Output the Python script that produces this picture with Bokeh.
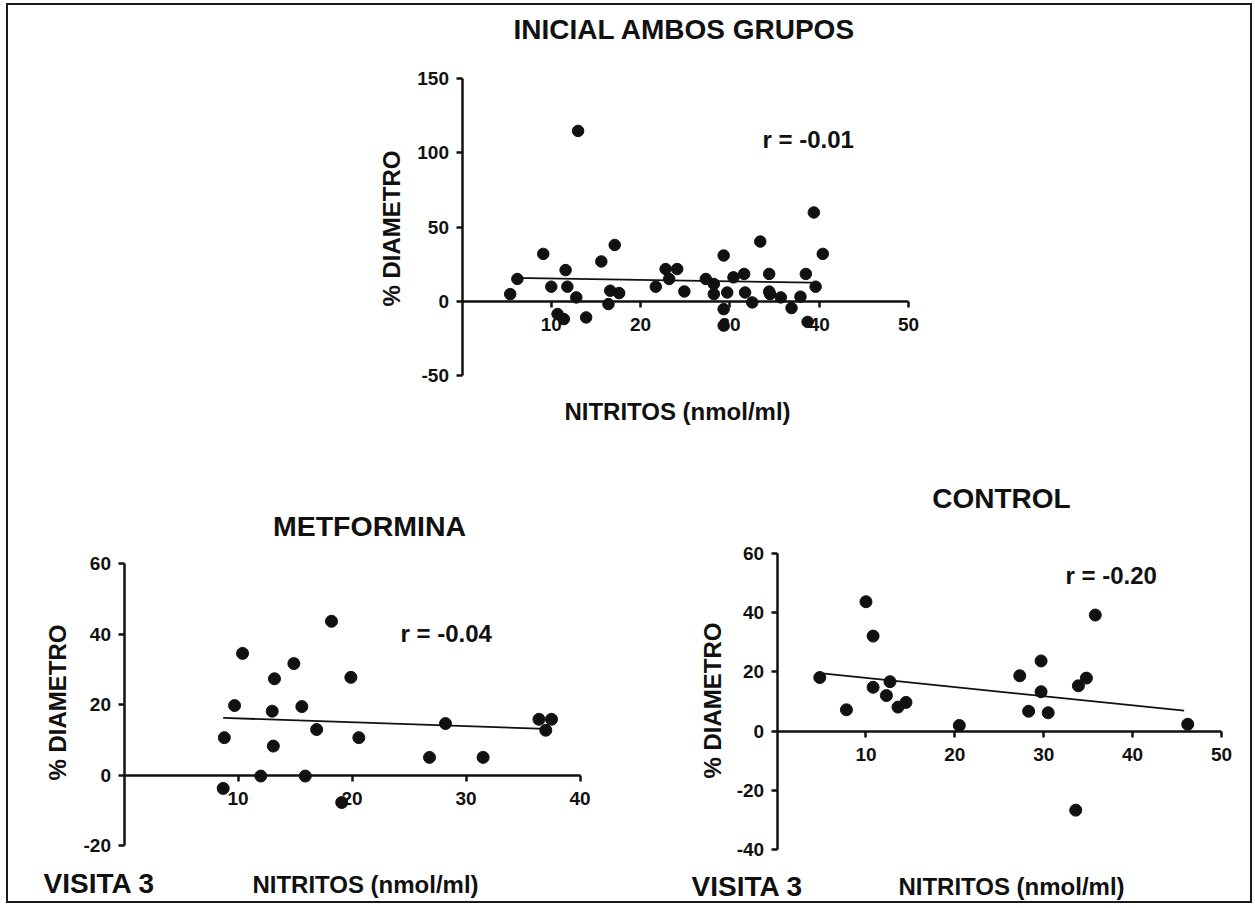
import math
from bokeh.plotting import figure
from bokeh.models import Label, FixedTicker, Range1d
from bokeh.layouts import column, row
from bokeh.embed import file_html
from bokeh.resources import INLINE

FONT = "Liberation Sans"
INK = "#111111"

# ---------------- data ----------------
# INICIAL AMBOS GRUPOS
top_x = [5.4, 6.2, 9.1, 10.0, 10.7, 11.4, 11.6, 11.8, 12.8, 13.0, 13.9, 15.6, 16.4, 16.6, 17.1,
         17.6, 21.7, 22.8, 23.2, 24.1, 24.9, 27.3, 28.2, 28.2, 29.3, 29.3, 29.3, 29.7, 30.4, 31.6,
         31.7, 32.5, 33.4, 34.4, 34.4, 34.5, 35.7, 36.9, 37.9, 38.5, 38.7, 39.4, 39.6, 40.4]
top_y = [4.8, 15.0, 31.9, 9.8, -8.6, -12.0, 21.0, 9.8, 2.6, 114.7, -10.9, 26.8, -1.9, 7.1, 37.9,
         5.5, 9.8, 21.7, 15.0, 21.7, 6.6, 15.0, 11.6, 4.8, 30.8, -5.3, -16.4, 5.9, 16.1, 18.4,
         5.9, -0.8, 40.2, 18.4, 6.5, 4.8, 2.6, -4.6, 3.1, 18.4, -13.9, 59.8, 9.8, 31.9]
top_fit_x = [5.8, 39.2]
top_fit_y = [15.8, 12.5]
top_r = "r = -0.01"

# METFORMINA
met_x = [8.8, 9.7, 8.7, 10.4, 12.0, 13.0, 13.2, 13.1, 14.9, 15.6, 15.9, 16.9, 18.2, 19.1, 19.9,
         20.6, 26.8, 28.2, 31.5, 36.4, 37.0, 37.5]
met_y = [10.6, 19.7, -3.8, 34.5, -0.3, 18.1, 27.3, 8.2, 31.6, 19.4, -0.3, 12.9, 43.6, -7.8, 27.7,
         10.6, 5.0, 14.6, 5.0, 15.8, 12.7, 15.8]
met_fit_x = [8.7, 37.0]
met_fit_y = [16.2, 13.1]
met_r = "r = -0.04"

# CONTROL
con_x = [4.8, 7.8, 10.0, 10.8, 10.8, 12.3, 12.7, 13.6, 14.5, 20.5, 27.3, 28.3, 29.7, 29.7, 30.5,
         33.6, 33.9, 34.8, 35.8, 46.2]
con_y = [18.1, 7.2, 43.7, 32.1, 14.8, 12.0, 16.7, 8.1, 9.7, 1.9, 18.7, 6.7, 23.7, 13.3, 6.2,
         -26.7, 15.3, 17.9, 39.2, 2.3]
con_fit_x = [4.8, 45.8]
con_fit_y = [19.6, 6.9]
con_r = "r = -0.20"

titles = ["INICIAL AMBOS GRUPOS", "METFORMINA", "CONTROL"]
x_label = "NITRITOS (nmol/ml)"
y_label = "% DIAMETRO"
visit_label = "VISITA 3"

top_bounds = ((0, 50), (-50, 150))
met_bounds = ((0, 40), (-20, 60))
con_bounds = ((0, 50), (-40, 60))
top_xticks = [10, 20, 30, 40, 50]
top_yticks = [-50, 0, 50, 100, 150]
met_xticks = [10, 20, 30, 40]
met_yticks = [-20, 0, 20, 40, 60]
con_xticks = [10, 20, 30, 40, 50]
con_yticks = [-40, -20, 0, 20, 40, 60]

# page-pixel layout (styling only)
ORIGIN = (8, 5)   # inner top-left of the framed page
BASE_SHIFT = 0.35  # empirical baseline correction (fraction of font size)


class Panel:
    def __init__(self, canvas, box_px, bounds, xticks, yticks):
        cl, ct, cw, ch = canvas
        (xl, xr_), (yt, yb) = box_px          # page px of bounds corners
        (bx0, bx1), (by0, by1) = bounds
        self.sx = (xr_ - xl) / (bx1 - bx0)
        self.sy = (yb - yt) / (by1 - by0)
        self.xl, self.yt, self.bx0, self.by1 = xl, yt, bx0, by1
        x_start = bx0 - (xl - cl) / self.sx
        x_end = bx0 + (cl + cw - xl) / self.sx
        y_end = by1 + (yt - ct) / self.sy
        y_start = by1 - (ct + ch - yt) / self.sy
        p = figure(width=cw, height=ch, x_range=Range1d(x_start, x_end),
                   y_range=Range1d(y_start, y_end), output_backend="svg",
                   toolbar_location=None, min_border_left=0, min_border_right=0,
                   min_border_top=0, min_border_bottom=0)
        p.title.visible = False
        p.grid.visible = False
        p.outline_line_color = None
        p.background_fill_color = "white"
        p.border_fill_color = "white"
        p.xaxis.fixed_location = 0
        p.yaxis.fixed_location = 0
        p.xaxis.bounds = (bx0, bx1)
        p.yaxis.bounds = (by0, by1)
        p.xaxis.ticker = FixedTicker(ticks=xticks)
        p.yaxis.ticker = FixedTicker(ticks=yticks)
        p.xaxis.major_label_overrides = {t: str(t) for t in xticks}
        p.yaxis.major_label_overrides = {t: str(t) for t in yticks}
        for ax in (p.xaxis[0], p.yaxis[0]):
            ax.axis_line_color = INK
            ax.axis_line_width = 2.5
            ax.major_tick_line_color = INK
            ax.major_tick_line_width = 2.5
            ax.major_tick_out = 6
            ax.major_tick_in = 0
            ax.minor_tick_line_color = None
            ax.major_label_text_font = FONT
            ax.major_label_text_font_style = "bold"
            ax.major_label_text_font_size = "19px"
            ax.major_label_text_color = INK
        p.xaxis.major_label_standoff = 11
        p.yaxis.major_label_standoff = 7
        self.p = p

    def data(self, px, py):
        return (self.bx0 + (px - self.xl) / self.sx, self.by1 - (py - self.yt) / self.sy)

    def text(self, s, px, py, size, align="center", angle=0.0, baseline="alphabetic"):
        if baseline == "alphabetic":
            py = py - BASE_SHIFT * size
        x, y = self.data(px, py)
        self.p.add_layout(Label(x=x, y=y, text=s, text_font=FONT, text_font_style="bold",
                                text_font_size=f"{size}px", text_align=align, angle=angle,
                                text_baseline=baseline, text_color=INK))

    def plot(self, xs, ys, fx, fy, dot):
        self.p.line(fx, fy, line_color=INK, line_width=1.8)
        self.p.scatter(xs, ys, size=dot, fill_color=INK, line_color=INK)


W = 1242
H_TOP = 440
H_BOT = 456
SPLIT = 650
ox, oy = ORIGIN

top = Panel((ox, oy, W, H_TOP), ((461.5, 908), (78, 375)), top_bounds, top_xticks, top_yticks)
top.plot(top_x, top_y, top_fit_x, top_fit_y, 11.5)
top.text(titles[0], 684, 39, 28)
top.text(x_label, 677, 419, 24)
top.text(top_r, 762, 147, 24, "left")
top.text(y_label, 391, 228, 24, "center", math.pi / 2, "middle")

met = Panel((ox, oy + H_TOP, SPLIT - ox, H_BOT), ((123.5, 579.5), (563, 845)), met_bounds,
            met_xticks, met_yticks)
met.plot(met_x, met_y, met_fit_x, met_fit_y, 12)
met.text(titles[1], 369, 535, 28.5)
met.text(x_label, 365, 892, 24)
met.text(visit_label, 43, 893, 28, "left")
met.text(met_r, 400, 641, 24, "left")
met.text(y_label, 57, 702, 24, "center", math.pi / 2, "middle")

con = Panel((SPLIT, oy + H_TOP, ox + W - SPLIT, H_BOT), ((776.6, 1221), (553, 849)), con_bounds,
            con_xticks, con_yticks)
con.plot(con_x, con_y, con_fit_x, con_fit_y, 12)
con.text(titles[2], 1001, 508, 28)
con.text(x_label, 1011, 894, 24)
con.text(visit_label, 691, 896, 28, "left")
con.text(con_r, 1065, 583, 24, "left")
con.text(y_label, 712, 700, 24, "center", math.pi / 2, "middle")

layout = column(top.p, row(met.p, con.p),
                styles={"border": "2px solid #1a1a1a", "margin-left": "6px", "margin-top": "3px"})

open("out.html", "w").write(file_html(layout, INLINE))
